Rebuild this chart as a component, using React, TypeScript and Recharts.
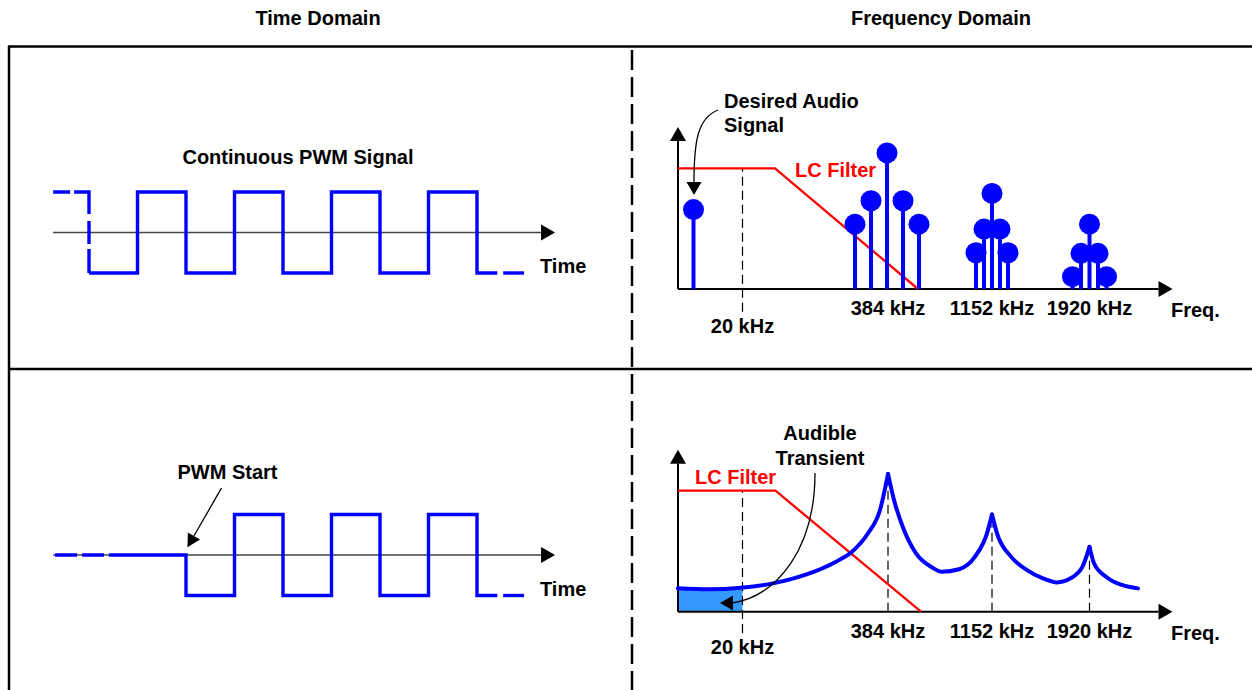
import React from 'react';
import { ComposedChart, Line, Scatter, Area, XAxis, YAxis, ReferenceLine } from 'recharts';

// ---- time domain: x in half PWM periods, y is normalised amplitude ----
const PWM_LEAD_T = [-0.74, 0, 0];
const PWM_LEAD_V = [1, 1, -1];
const PWM_T = [0, 1, 1, 2, 2, 3, 3, 4, 4, 5, 5, 6, 6, 7, 7, 8, 8, 8.42];
const PWM_V = [-1, -1, 1, 1, -1, -1, 1, 1, -1, -1, 1, 1, -1, -1, 1, 1, -1, -1];
const PWM_TAIL_T = [8.54, 8.97];
const PWM_TAIL_V = [-1, -1];

const START_IDLE_T = [-0.7, 0.31];
const START_IDLE_V = [0, 0];
const START_T = [0.41, 2, 2, 3, 3, 4, 4, 5, 5, 6, 6, 7, 7, 8, 8, 8.42];
const START_V = [0, 0, -1, -1, 1, 1, -1, -1, 1, 1, -1, -1, 1, 1, -1, -1];
const TIME_AXIS_T = [-0.74, 9.61];
const PWM_START_FROM = [2.73, 1.65];
const PWM_START_TO = [2.03, 0.19];

// ---- frequency domain: x is a schematic frequency position, y relative magnitude ----
const FREQ_LABELS = ['20 kHz', '384 kHz', '1152 kHz', '1920 kHz'];
const FREQ_POS = [6.45, 21.0, 31.4, 41.15];
const FREQ_AXIS_END = 49.45;
const MAG_AXIS_END = 10.0;

const LC_POS = [0, 9.7, 24.0];
const LC_GAIN = [7.45, 7.45, 0];

const AUDIO_POS = [1.55];
const AUDIO_AMP = [4.9];
const H1_POS = [17.7, 19.3, 20.9, 22.5, 24.1];
const H1_AMP = [4.0, 5.45, 8.4, 5.45, 4.0];
const H3_POS = [29.8, 30.6, 31.4, 32.2, 33.0];
const H3_AMP = [2.24, 3.7, 5.9, 3.7, 2.24];
const H5_POS = [39.45, 40.3, 41.15, 42.0, 42.85];
const H5_AMP = [0.76, 2.2, 4.0, 2.2, 0.76];
const DESIRED_FROM = [4.0, 11.05];
const DESIRED_TO = [1.6, 5.8];

const LC2_POS = [0, 9.75, 24.3];
const LC2_GAIN = [7.47, 7.47, 0];
const SPECTRUM_POS = [0, 3.1, 6.3, 9.5, 12.7, 15.8, 17.4, 19.0, 20.2, 21.0, 21.6, 22.6, 23.8, 25.4, 26.35, 28.1, 29.7, 30.9, 31.4, 31.9, 33.3, 34.9, 36.5, 37.9, 39.25, 40.45, 41.15, 41.6, 42.8, 44.4, 46.0];
const SPECTRUM_AMP = [1.44, 1.38, 1.48, 1.75, 2.27, 3.09, 3.7, 4.84, 6.28, 8.5, 6.9, 5.04, 3.6, 2.74, 2.47, 2.62, 3.4, 4.84, 6.0, 4.84, 3.4, 2.57, 2.06, 1.81, 2.06, 2.78, 4.0, 2.99, 2.16, 1.65, 1.44];
const PEAK_AMP = [8.5, 6.0, 4.0];
const AUDIBLE_BAND = [0, 6.45];
const AUDIBLE_LEVEL = 1.36;
const TRANSIENT_FROM = [13.7, 8.56];
const TRANSIENT_TO = [4.2, 0.54];

const BLUE = '#0000FF';
const RED = '#FF0000';
const FONT = "'Liberation Sans', Arial, Helvetica, sans-serif";

const pts = (xs: number[], ys: number[]) => xs.map((x, i) => ({ x, y: ys[i] }));

type Box = { left: number; top: number; width: number; height: number; x0: number; kx: number; y0: number; ky: number };

const TL: Box = { left: 10, top: 48, width: 620, height: 318, x0: 89, kx: 48.5, y0: 232.5, ky: 40.5 };
const BL: Box = { left: 10, top: 370, width: 620, height: 320, x0: 89, kx: 48.5, y0: 555, ky: 40.5 };
const TR: Box = { left: 634, top: 48, width: 618, height: 318, x0: 678, kx: 10, y0: 289, ky: 16.2 };
const BR: Box = { left: 634, top: 370, width: 618, height: 320, x0: 678, kx: 10, y0: 611.7, ky: 16.2 };

const arrowShape = (line: string, head: string, w: number, len = 14, half = 8) => (p: any) => {
  const { x1, y1, x2, y2 } = p;
  const d = Math.hypot(x2 - x1, y2 - y1) || 1;
  const ux = (x2 - x1) / d;
  const uy = (y2 - y1) / d;
  const bx = x2 - ux * len;
  const by = y2 - uy * len;
  return (
    <g>
      <line x1={x1} y1={y1} x2={bx} y2={by} stroke={line} strokeWidth={w} />
      <polygon points={`${x2},${y2} ${bx - uy * half},${by + ux * half} ${bx + uy * half},${by - ux * half}`} fill={head} />
    </g>
  );
};

const curvedArrowShape = (dir: number[], c1: number[], c2: number[]) => (p: any) => {
  const { x1, y1, x2, y2 } = p;
  const len = 13;
  const half = 7.5;
  const bx = x2 - dir[0] * len;
  const by = y2 - dir[1] * len;
  const d = `M${x1},${y1} C${x1 + c1[0]},${y1 + c1[1]} ${bx + c2[0]},${by + c2[1]} ${bx},${by}`;
  return (
    <g>
      <path d={d} fill="none" stroke="#000" strokeWidth={1.3} />
      <polygon points={`${x2},${y2} ${bx - dir[1] * half},${by + dir[0] * half} ${bx + dir[1] * half},${by - dir[0] * half}`} fill="#000" />
    </g>
  );
};

const ball = (p: any) => <circle cx={p.cx} cy={p.cy} r={10.5} fill={BLUE} />;

const freqLabel = (dyNear: number, dyFar: number) => (p: any) => (
  <text
    x={p.cx}
    y={p.cy + (p.payload.far ? dyFar : dyNear)}
    textAnchor="middle"
    fontFamily={FONT}
    fontWeight="bold"
    fontSize={20}
    fill="#000"
  >
    {p.payload.label}
  </text>
);

const freqLabelData = FREQ_LABELS.map((label, i) => ({ x: FREQ_POS[i], y: 0, label, far: i === 0 }));

function Panel({ box, children }: { box: Box; children: React.ReactNode }) {
  const xd = [(box.left - box.x0) / box.kx, (box.left + box.width - box.x0) / box.kx];
  const yd = [(box.y0 - box.top - box.height) / box.ky, (box.y0 - box.top) / box.ky];
  return (
    <div style={{ position: 'absolute', left: box.left, top: box.top }}>
      <ComposedChart width={box.width} height={box.height} margin={{ top: 0, right: 0, bottom: 0, left: 0 }}>
        <XAxis type="number" dataKey="x" domain={xd} allowDataOverflow hide />
        <YAxis type="number" dataKey="y" domain={yd} allowDataOverflow hide />
        {children}
      </ComposedChart>
    </div>
  );
}

const waveProps = {
  type: 'linear' as const,
  dataKey: 'y',
  stroke: BLUE,
  strokeWidth: 3.4,
  dot: false,
  activeDot: false,
  isAnimationActive: false,
  strokeLinejoin: 'miter' as const,
  strokeLinecap: 'butt' as const,
};

function timeAxis() {
  return (
    <ReferenceLine
      segment={[{ x: TIME_AXIS_T[0], y: 0 }, { x: TIME_AXIS_T[1], y: 0 }]}
      ifOverflow="visible"
      shape={arrowShape('#444', '#000', 1.6, 14, 8)}
    />
  );
}

function freqAxes() {
  return [
    <ReferenceLine key="fx" segment={[{ x: 0, y: 0 }, { x: FREQ_AXIS_END, y: 0 }]} ifOverflow="visible" shape={arrowShape('#000', '#000', 2, 14, 8)} />,
    <ReferenceLine key="fy" segment={[{ x: 0, y: 0 }, { x: 0, y: MAG_AXIS_END }]} ifOverflow="visible" shape={arrowShape('#000', '#000', 2, 14, 8)} />,
  ];
}

// split the spectrum at its peaks so each peak stays a sharp cusp
const spectrumLobes = (() => {
  const all = pts(SPECTRUM_POS, SPECTRUM_AMP);
  const lobes: { x: number; y: number }[][] = [];
  let cur: { x: number; y: number }[] = [];
  all.forEach((p) => {
    cur.push(p);
    if (PEAK_AMP.includes(p.y) && cur.length > 1) {
      lobes.push(cur);
      cur = [p];
    }
  });
  if (cur.length > 1) lobes.push(cur);
  return lobes;
})();

const T = (x: number, y: number, s: string, extra: any = {}) => (
  <text x={x} y={y} fontFamily={FONT} fontWeight="bold" fontSize={20} fill="#000" {...extra}>
    {s}
  </text>
);

export default function App() {
  const stems = [
    ...pts(AUDIO_POS, AUDIO_AMP),
    ...pts(H1_POS, H1_AMP),
    ...pts(H3_POS, H3_AMP),
    ...pts(H5_POS, H5_AMP),
  ];

  return (
    <div style={{ position: 'absolute', left: 0, top: 0, width: 1252, height: 690, background: '#fff', overflow: 'hidden' }}>
      {/* continuous PWM */}
      <Panel box={TL}>
        {timeAxis()}
        <Line {...waveProps} data={pts(PWM_LEAD_T, PWM_LEAD_V)} strokeDasharray="17 4 37 7 23 5 30" />
        <Line {...waveProps} data={pts(PWM_T, PWM_V)} />
        <Line {...waveProps} data={pts(PWM_TAIL_T, PWM_TAIL_V)} />
      </Panel>

      {/* PWM start */}
      <Panel box={BL}>
        {timeAxis()}
        <Line {...waveProps} data={pts(START_IDLE_T, START_IDLE_V)} strokeDasharray="22 5" />
        <Line {...waveProps} data={pts(START_T, START_V)} />
        <Line {...waveProps} data={pts(PWM_TAIL_T, PWM_TAIL_V)} />
        <ReferenceLine
          segment={[{ x: PWM_START_FROM[0], y: PWM_START_FROM[1] }, { x: PWM_START_TO[0], y: PWM_START_TO[1] }]}
          ifOverflow="visible"
          shape={arrowShape('#000', '#000', 1.3, 13, 7)}
        />
      </Panel>

      {/* stem spectrum */}
      <Panel box={TR}>
        {freqAxes()}
        <ReferenceLine
          segment={[{ x: FREQ_POS[0], y: -1.4 }, { x: FREQ_POS[0], y: LC_GAIN[0] }]}
          ifOverflow="visible"
          stroke="#000"
          strokeWidth={1.2}
          strokeDasharray="9 5"
        />
        <Line type="linear" dataKey="y" data={pts(LC_POS, LC_GAIN)} stroke={RED} strokeWidth={2.3} dot={false} activeDot={false} isAnimationActive={false} />
        {stems.map((s, i) => (
          <ReferenceLine key={`st${i}`} segment={[{ x: s.x, y: 0 }, { x: s.x, y: s.y }]} ifOverflow="visible" stroke={BLUE} strokeWidth={4} />
        ))}
        <Scatter data={stems} dataKey="y" shape={ball} isAnimationActive={false} />
        <Scatter data={freqLabelData} dataKey="y" shape={freqLabel(26, 44)} isAnimationActive={false} />
        <ReferenceLine
          segment={[{ x: DESIRED_FROM[0], y: DESIRED_FROM[1] }, { x: DESIRED_TO[0], y: DESIRED_TO[1] }]}
          ifOverflow="visible"
          shape={curvedArrowShape([0, 1], [-20, 8], [0, -42])}
        />
      </Panel>

      {/* continuous spectrum */}
      <Panel box={BR}>
        <Area
          type="linear"
          dataKey="y"
          data={pts(AUDIBLE_BAND, [AUDIBLE_LEVEL, AUDIBLE_LEVEL])}
          baseValue={0}
          fill="#3399FF"
          fillOpacity={1}
          stroke="none"
          isAnimationActive={false}
        />
        {freqAxes()}
        <ReferenceLine
          segment={[{ x: FREQ_POS[0], y: -1.32 }, { x: FREQ_POS[0], y: LC2_GAIN[0] }]}
          ifOverflow="visible"
          stroke="#000"
          strokeWidth={1.2}
          strokeDasharray="9 5"
        />
        {FREQ_POS.slice(1).map((f, i) => (
          <ReferenceLine
            key={`pk${i}`}
            segment={[{ x: f, y: 0 }, { x: f, y: PEAK_AMP[i] - 0.6 }]}
            ifOverflow="visible"
            stroke="#000"
            strokeWidth={1.2}
            strokeDasharray="9 5"
          />
        ))}
        <Line type="linear" dataKey="y" data={pts(LC2_POS, LC2_GAIN)} stroke={RED} strokeWidth={2.3} dot={false} activeDot={false} isAnimationActive={false} />
        {spectrumLobes.map((lobe, i) => (
          <Line
            key={`lobe${i}`}
            type="monotone"
            dataKey="y"
            data={lobe}
            stroke={BLUE}
            strokeWidth={4}
            strokeLinecap="round"
            dot={false}
            activeDot={false}
            isAnimationActive={false}
          />
        ))}
        <Scatter data={freqLabelData} dataKey="y" shape={freqLabel(26, 42)} isAnimationActive={false} />
        <ReferenceLine
          segment={[{ x: TRANSIENT_FROM[0], y: TRANSIENT_FROM[1] }, { x: TRANSIENT_TO[0], y: TRANSIENT_TO[1] }]}
          ifOverflow="visible"
          shape={curvedArrowShape([-1, 0], [0, 75], [45, -8])}
        />
      </Panel>

      {/* frame and captions */}
      <svg width={1252} height={690} style={{ position: 'absolute', left: 0, top: 0, pointerEvents: 'none' }}>
        <line x1={8} y1={46.5} x2={1252} y2={46.5} stroke="#000" strokeWidth={2.5} />
        <line x1={9} y1={46} x2={9} y2={690} stroke="#000" strokeWidth={2.5} />
        <line x1={8} y1={369} x2={1252} y2={369} stroke="#000" strokeWidth={2.5} />
        <line x1={632} y1={50} x2={632} y2={690} stroke="#000" strokeWidth={2.5} strokeDasharray="20 7" />

        {T(318, 25, 'Time Domain', { textAnchor: 'middle' })}
        {T(941, 25, 'Frequency Domain', { textAnchor: 'middle' })}

        {T(298, 164, 'Continuous PWM Signal', { textAnchor: 'middle' })}
        {T(540, 273, 'Time')}
        {T(177.5, 479, 'PWM Start')}
        {T(540, 596, 'Time')}

        {T(724, 107.5, 'Desired Audio')}
        {T(724, 131.5, 'Signal')}
        {T(795, 177, 'LC Filter', { fill: RED })}
        {T(1171, 317, 'Freq.')}

        {T(820, 440, 'Audible', { textAnchor: 'middle' })}
        {T(820, 465, 'Transient', { textAnchor: 'middle' })}
        {T(695, 483.5, 'LC Filter', { fill: RED })}
        {T(1171, 640, 'Freq.')}
      </svg>
    </div>
  );
}
